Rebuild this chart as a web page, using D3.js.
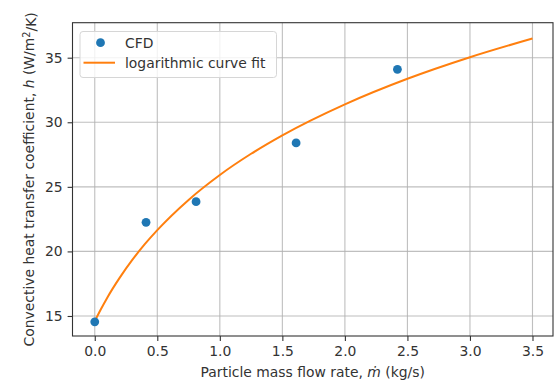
<!DOCTYPE html>
<html>
<head>
<meta charset="utf-8">
<script src="https://cdn.jsdelivr.net/npm/d3@7"></script>
<style>
  html, body { margin: 0; padding: 0; background: #fff; }
  svg { display: block; font-family: "DejaVu Sans", sans-serif; }
</style>
</head>
<body>
<svg id="chart" width="557" height="382"></svg>
<script>
// CFD data points
const cfdX = [0.0, 0.41, 0.81, 1.61, 2.42];
const cfdY = [14.55, 22.25, 23.85, 28.4, 34.1];

// logarithmic curve fit
const fitX = [0.0, 0.05, 0.1, 0.2, 0.3, 0.4, 0.5, 0.75, 1.0, 1.25, 1.5, 2.0, 2.5, 3.0, 3.5];
const fitY = [14.6, 15.54, 16.42, 17.97, 19.34, 20.56, 21.65, 23.99, 25.92, 27.56, 28.99, 31.39, 33.37, 35.04, 36.49];

// ticks
const xTicks = [0.0, 0.5, 1.0, 1.5, 2.0, 2.5, 3.0, 3.5];
const yTicks = [15, 20, 25, 30, 35];

const xDomain = [-0.178, 3.664];
const yDomain = [13.45, 37.71];

const svg = d3.select("#chart");
const L = 72.5, R = 553, T = 22.7, B = 336;

const x = d3.scaleLinear().domain(xDomain).range([L, R]);
const y = d3.scaleLinear().domain(yDomain).range([B, T]);

const fs = 13.9;

// grid
const grid = svg.append("g");
grid.selectAll(".gx").data(xTicks).enter().append("line")
  .attr("x1", d => x(d)).attr("x2", d => x(d))
  .attr("y1", T).attr("y2", B)
  .attr("stroke", "#b0b0b0").attr("stroke-width", 1.1).attr("opacity", 0.8);
grid.selectAll(".gy").data(yTicks).enter().append("line")
  .attr("x1", L).attr("x2", R)
  .attr("y1", d => y(d)).attr("y2", d => y(d))
  .attr("stroke", "#b0b0b0").attr("stroke-width", 1.1).attr("opacity", 0.8);

// axes
const xAxis = d3.axisBottom(x).tickValues(xTicks).tickFormat(d3.format(".1f")).tickSize(4.9).tickPadding(4.9);
const yAxis = d3.axisLeft(y).tickValues(yTicks).tickFormat(d3.format("d")).tickSize(4.9).tickPadding(4.9);

const gx = svg.append("g").attr("transform", `translate(0,${B})`).call(xAxis);
const gy = svg.append("g").attr("transform", `translate(${L},0)`).call(yAxis);
[gx, gy].forEach(g => {
  g.select(".domain").remove();
  g.selectAll(".tick line").attr("stroke", "#333").attr("stroke-width", 1.1);
  g.selectAll(".tick text").attr("fill", "#333").style("font-size", fs + "px")
    .style("font-family", "'DejaVu Sans', sans-serif");
});

// curve
const line = d3.line().x((d, i) => x(fitX[i])).y(d => y(d)).curve(d3.curveMonotoneX);
svg.append("path").datum(fitY)
  .attr("d", line)
  .attr("fill", "none").attr("stroke", "#ff7f0e").attr("stroke-width", 2);

// points
svg.selectAll(".pt").data(cfdY).enter().append("circle")
  .attr("cx", (d, i) => x(cfdX[i])).attr("cy", d => y(d))
  .attr("r", 4.4).attr("fill", "#1f77b4");

// frame
svg.append("rect").attr("x", L).attr("y", T).attr("width", R - L).attr("height", B - T)
  .attr("fill", "none").attr("stroke", "#333").attr("stroke-width", 1.1);

// legend
const lg = svg.append("g");
lg.append("rect").attr("x", 80).attr("y", 31.5).attr("width", 196.5).attr("height", 46)
  .attr("rx", 3).attr("fill", "#fff").attr("fill-opacity", 0.8)
  .attr("stroke", "#d6d6d6").attr("stroke-width", 1);
lg.append("circle").attr("cx", 100.5).attr("cy", 42.7).attr("r", 4.4).attr("fill", "#1f77b4");
lg.append("line").attr("x1", 83.5).attr("x2", 115).attr("y1", 62.7).attr("y2", 62.7)
  .attr("stroke", "#ff7f0e").attr("stroke-width", 2);
lg.append("text").attr("x", 125).attr("y", 42.7).attr("dy", "0.35em")
  .attr("fill", "#333").style("font-size", fs + "px").text("CFD");
lg.append("text").attr("x", 125).attr("y", 62.7).attr("dy", "0.35em")
  .attr("fill", "#333").style("font-size", fs + "px").text("logarithmic curve fit");

// x label
const xl = svg.append("text").attr("x", (L + R) / 2).attr("y", 377)
  .attr("text-anchor", "middle").attr("fill", "#333").style("font-size", fs + "px");
xl.append("tspan").text("Particle mass flow rate, ");
xl.append("tspan").style("font-style", "italic").text("ṁ");
xl.append("tspan").text(" (kg/s)");

// y label
const yl = svg.append("text")
  .attr("transform", `translate(34,${(T + B) / 2}) rotate(-90)`)
  .attr("text-anchor", "middle").attr("fill", "#333").style("font-size", fs + "px");
yl.append("tspan").text("Convective heat transfer coefficient, ");
yl.append("tspan").style("font-style", "italic").text("h");
yl.append("tspan").text(" (W/m");
yl.append("tspan").attr("dy", "-0.4em").style("font-size", (fs * 0.7) + "px").text("2");
yl.append("tspan").attr("dy", "0.4em").text("/K)");
</script>
</body>
</html>
